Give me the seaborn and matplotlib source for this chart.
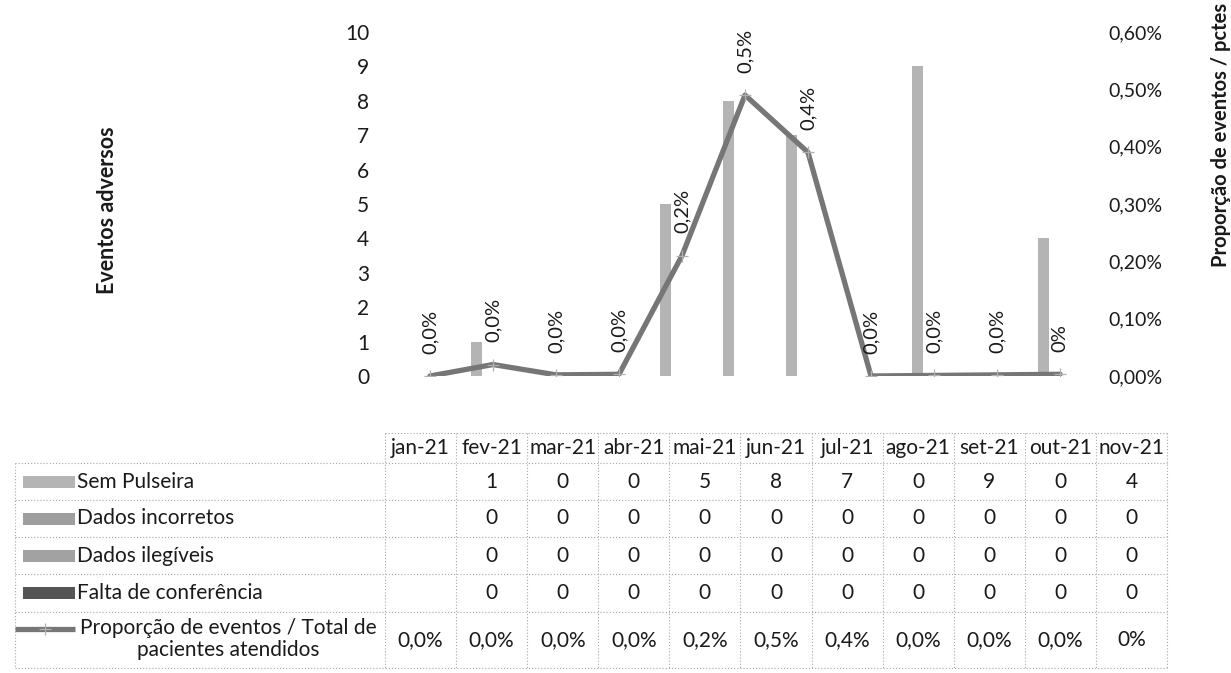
import numpy as np
import pandas as pd
import matplotlib
matplotlib.use("Agg")
import matplotlib.pyplot as plt
import seaborn as sns
from matplotlib.patches import Rectangle

# ---- data -----------------------------------------------------------------
months = ["jan-21", "fev-21", "mar-21", "abr-21", "mai-21", "jun-21",
          "jul-21", "ago-21", "set-21", "out-21", "nov-21"]
series_names = ["Sem Pulseira", "Dados incorretos", "Dados ilegíveis",
                "Falta de conferência"]
sem_pulseira = [np.nan, 1, 0, 0, 5, 8, 7, 0, 9, 0, 4]
dados_incorretos = [np.nan, 0, 0, 0, 0, 0, 0, 0, 0, 0, 0]
dados_ilegiveis = [np.nan, 0, 0, 0, 0, 0, 0, 0, 0, 0, 0]
falta_conferencia = [np.nan, 0, 0, 0, 0, 0, 0, 0, 0, 0, 0]
# proportion of events / patients seen, in percent
proporcao = [0.0, 0.02, 0.002, 0.003, 0.21, 0.49, 0.39, 0.0, 0.001, 0.002, 0.003]
proporcao_decimals = [1, 1, 1, 1, 1, 1, 1, 1, 1, 1, 0]
line_name = "Proporção de eventos / Total de\npacientes atendidos"
left_ticks = list(range(0, 11))
right_ticks = [0.0, 0.1, 0.2, 0.3, 0.4, 0.5, 0.6]

series_values = [sem_pulseira, dados_incorretos, dados_ilegiveis, falta_conferencia]
series_colors = ["#b4b4b4", "#9e9e9e", "#a2a2a2", "#545454"]
line_color = "#767676"

# ---- style ----------------------------------------------------------------
sns.set_theme(style="white")
plt.rcParams["font.family"] = ["Lato", "DejaVu Sans"]
FS = 15
TXT = "#1a1a1a"

W, H = 1231, 673
fig = plt.figure(figsize=(W / 100, H / 100), dpi=100)
fig.patch.set_facecolor("white")

# table layer in pixel coordinates
tab = fig.add_axes([0, 0, 1, 1], zorder=0)
tab.set_xlim(0, W)
tab.set_ylim(H, 0)
tab.axis("off")
tab.patch.set_alpha(0)

# ---- chart ----------------------------------------------------------------
x0, x1 = 398.5, 1091.5
y_zero, y_top = 376, 32
ax = fig.add_axes([x0 / W, (H - y_zero) / H, (x1 - x0) / W, (y_zero - y_top) / H],
                  zorder=2)
ax.patch.set_alpha(0)

long = pd.DataFrame({
    "mes": np.repeat(months, len(series_names)).tolist(),
    "serie": series_names * len(months),
    "valor": [series_values[j][i] for i in range(len(months))
              for j in range(len(series_names))],
})
sns.barplot(data=long, x="mes", y="valor", hue="serie", order=months,
            hue_order=series_names, palette=series_colors, width=0.7,
            saturation=1, errorbar=None, legend=False, ax=ax, linewidth=0)
ax.set_xlim(-0.5, len(months) - 0.5)
ax.set_ylim(0, 10)
ax.set_yticks(left_ticks)
ax.set_yticklabels([str(t) for t in left_ticks])
ax.set_xticks([])
ax.set_xlabel("")
ax.set_ylabel("")
ax.tick_params(axis="y", length=0, pad=21, labelsize=FS, labelcolor=TXT)
for s in ax.spines.values():
    s.set_visible(False)

ax2 = ax.twinx()
pos = np.arange(len(months))
line_df = pd.DataFrame({"pos": pos, "prop": proporcao})
sns.lineplot(data=line_df, x="pos", y="prop", ax=ax2, color=line_color,
             linewidth=3.8, marker="+", markersize=9, markeredgecolor="#b0b0b0",
             markeredgewidth=0.9, zorder=3)
ax2.set_ylim(0, 0.6)
ax2.set_xlim(-0.5, len(months) - 0.5)
ax2.set_yticks(right_ticks)
ax2.set_yticklabels([f"{t:.2f}%".replace(".", ",") for t in right_ticks])
ax2.tick_params(axis="y", length=0, pad=12, labelsize=FS - 1, labelcolor=TXT)
ax2.set_xlabel("")
ax2.set_ylabel("")
for s in ax2.spines.values():
    s.set_visible(False)

for i, (v, d) in enumerate(zip(proporcao, proporcao_decimals)):
    lab = f"{v:.{d}f}%".replace(".", ",")
    ax2.annotate(lab, (i, v), xytext=(0, 16), textcoords="offset points",
                 rotation=90, ha="center", va="bottom", fontsize=FS - 0.5,
                 color=TXT)

fig.text(108 / W, 1 - 210 / H, "Eventos adversos", rotation=90, ha="center",
         va="center", fontsize=15.5, fontweight="bold", color=TXT)
fig.text(1221 / W, 1 - 3 / H, "Proporção de eventos / pctes", rotation=90,
         ha="center", va="top", fontsize=14.5, fontweight="bold", color=TXT)

# ---- data table -----------------------------------------------------------
grid_kw = dict(color="#a8a8a8", lw=0.8, linestyle=(0, (1, 1.8)))
col_edges = np.linspace(385, 1167, len(months) + 1)
row_edges = [463, 500, 537, 574, 612, 668]
head_top = 433
lab_left = 15

tab.plot([col_edges[0], col_edges[-1]], [head_top, head_top], **grid_kw)
for y in row_edges:
    tab.plot([lab_left, col_edges[-1]], [y, y], **grid_kw)
tab.plot([lab_left, lab_left], [row_edges[0], row_edges[-1]], **grid_kw)
for x in col_edges:
    tab.plot([x, x], [head_top, row_edges[-1]], **grid_kw)

centers = (col_edges[:-1] + col_edges[1:]) / 2
for c, m in zip(centers, months):
    tab.text(c, (head_top + row_edges[0]) / 2, m, ha="center", va="center",
             fontsize=FS, color=TXT)

for r, (name, vals, col) in enumerate(zip(series_names, series_values, series_colors)):
    yc = (row_edges[r] + row_edges[r + 1]) / 2
    tab.add_patch(Rectangle((23, yc - 6), 52, 12, facecolor=col, edgecolor="none"))
    tab.text(77, yc, name, ha="left", va="center", fontsize=FS, color=TXT)
    for c, v in zip(centers, vals):
        if not np.isnan(v):
            tab.text(c, yc, f"{int(v)}", ha="center", va="center",
                     fontsize=FS, color=TXT)

yc = (row_edges[4] + row_edges[5]) / 2
tab.plot([15, 75], [yc - 11, yc - 11], color=line_color, lw=3.8,
         solid_capstyle="butt")
tab.plot([45], [yc - 11], marker="+", markersize=8, mec="#b0b0b0", mew=0.9)
tab.text(228, yc - 1, line_name, ha="center", va="center", fontsize=FS,
         color=TXT, multialignment="center", linespacing=1.15)
for c, v, d in zip(centers, proporcao, proporcao_decimals):
    tab.text(c, yc, f"{v:.{d}f}%".replace(".", ","), ha="center", va="center",
             fontsize=FS, color=TXT)

fig.savefig("out.png", dpi=100, facecolor="white")
